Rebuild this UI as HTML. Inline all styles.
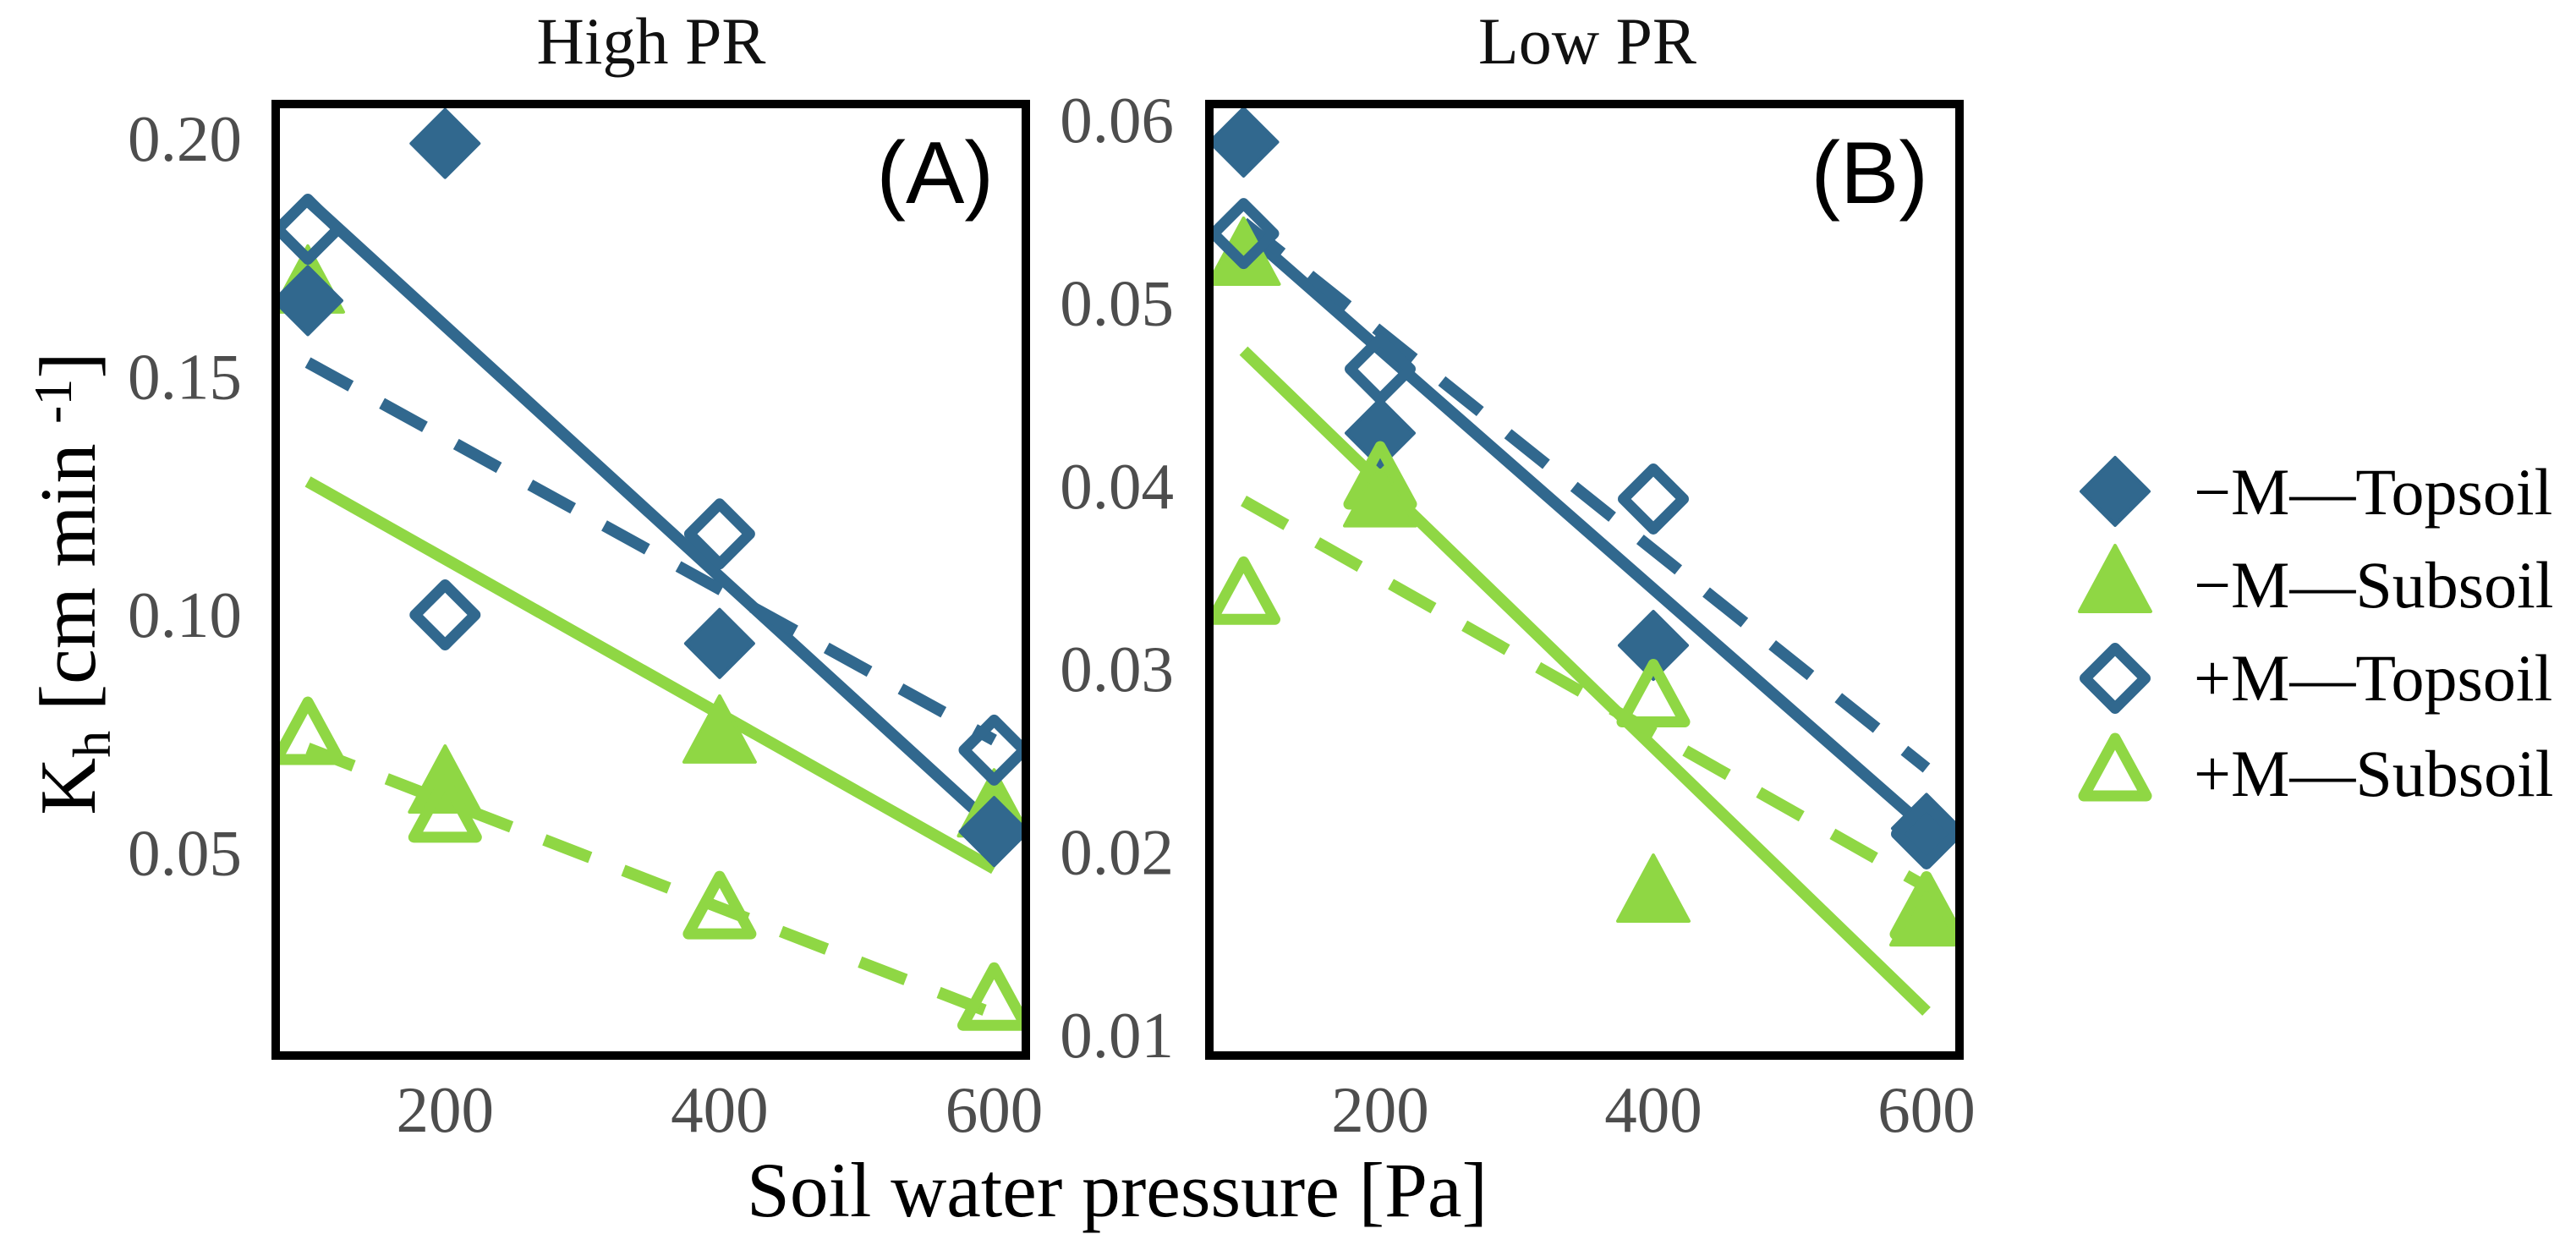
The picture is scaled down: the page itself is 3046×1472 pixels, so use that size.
<!DOCTYPE html>
<html><head><meta charset="utf-8"><title>Kh vs soil water pressure</title>
<style>
html,body{margin:0;padding:0;background:#fff;}
svg{display:block;}
text{font-family:"Liberation Serif",serif;}
</style></head>
<body>
<svg id="chart" xmlns="http://www.w3.org/2000/svg" width="3046" height="1472" viewBox="0 0 3046 1472">
<defs>
<clipPath id="clipA"><rect x="330" y="126" width="880" height="1116"/></clipPath>
<clipPath id="clipB"><rect x="1434" y="126" width="879" height="1116"/></clipPath>
</defs>
<rect x="0" y="0" width="3046" height="1472" fill="#fff"/>
<text x="770" y="75" font-size="78" text-anchor="middle" fill="#111">High PR</text>
<text x="1877" y="75" font-size="78" text-anchor="middle" fill="#111">Low PR</text>
<g id="gA"></g>
<g id="gB"></g>
<rect x="326" y="123" width="887" height="1125" fill="none" stroke="#000" stroke-width="10"/>
<rect x="1430" y="123" width="887" height="1125" fill="none" stroke="#000" stroke-width="10"/>
<text x="1175" y="240" font-size="104" text-anchor="end" fill="#000" style="font-family:'Liberation Sans',sans-serif">(A)</text>
<text x="2280" y="240" font-size="104" text-anchor="end" fill="#000" style="font-family:'Liberation Sans',sans-serif">(B)</text>
<text x="1321" y="1438" font-size="92" text-anchor="middle" textLength="876" lengthAdjust="spacingAndGlyphs" fill="#000">Soil water pressure [Pa]</text>
<text transform="translate(112,690) rotate(-90)" font-size="94" text-anchor="middle" fill="#000">K<tspan font-size="64" dy="18">h</tspan><tspan dy="-18"> [cm min </tspan><tspan font-size="64" dy="-28">-1</tspan><tspan dy="28">]</tspan></text>
<g id="legend"></g>
</svg>
<script>
const xTicks = [200, 400, 600];
const yTicksA = [0.20, 0.15, 0.10, 0.05];
const yTickLabelsA = ["0.20", "0.15", "0.10", "0.05"];
const yTicksB = [0.06, 0.05, 0.04, 0.03, 0.02, 0.01];
const yTickLabelsB = ["0.06", "0.05", "0.04", "0.03", "0.02", "0.01"];
const pressures = [100, 200, 400, 600];
const seriesNames = ["-M Topsoil", "-M Subsoil", "+M Topsoil", "+M Subsoil"];
// Panel A (High PR)
const aTopNoM = [0.166, 0.199, 0.094, 0.0545];
const aSubNoM = [0.170, 0.065, 0.0755, 0.060];
const aTopM = [0.181, 0.100, 0.117, 0.0716];
const aSubM = [0.0753, 0.059, 0.0387, 0.0195];
const aFitTopNoM = [0.187, 0.0554];
const aFitTopM = [0.153, 0.0737];
const aFitSubNoM = [0.128, 0.0467];
const aFitSubM = [0.072, 0.0162];
// Panel B (Low PR)
const bTopNoM = [0.0588, 0.0429, 0.0313, 0.0213];
const bSubNoM = [0.0527, 0.0395, 0.0179, 0.0166];
const bTopM = [0.0538, 0.0464, 0.0393, 0.021];
const bSubM = [0.0342, 0.0405, 0.0286, 0.017];
const bFitTopNoM = [0.054, 0.0213];
const bFitTopM = [0.0544, 0.0246];
const bFitSubNoM = [0.0474, 0.0113];
const bFitSubM = [0.0392, 0.0181];
const fitX = [100, 600];

const NS = "http://www.w3.org/2000/svg";
const BLUE = "#31688e", GREEN = "#8fd744", GRAY = "#4d4d4d";
function mk(tag, attrs, parent) {
  const e = document.createElementNS(NS, tag);
  for (const k in attrs) e.setAttribute(k, attrs[k]);
  parent.appendChild(e);
  return e;
}
const xA = v => 364 + (v - 100) * 1.623;
const yA = v => 164 + (0.20 - v) * 5630;
const xB = v => 1470.5 + (v - 100) * 1.615;
const yB = v => 142 + (0.06 - v) * 21640;

function diamond(cx, cy, open, parent) {
  let d;
  if (open) {
    const h = 35.5, w = 35.5;
    d = `M${cx},${cy - h} L${cx + w},${cy} L${cx},${cy + h} L${cx - w},${cy} Z`;
    return mk("path", {d, fill: "none", stroke: BLUE, "stroke-width": 13, "stroke-linejoin": "round"}, parent);
  }
  const h = 40, w = 40;
  d = `M${cx},${cy - h} L${cx + w},${cy} L${cx},${cy + h} L${cx - w},${cy} Z`;
  return mk("path", {d, fill: BLUE, stroke: BLUE, "stroke-width": 4, "stroke-linejoin": "round"}, parent);
}
function triangle(cx, cy, open, parent) {
  let d;
  if (open) {
    d = `M${cx},${cy - 36} L${cx + 37},${cy + 32} L${cx - 37},${cy + 32} Z`;
    return mk("path", {d, fill: "none", stroke: GREEN, "stroke-width": 13, "stroke-linejoin": "round"}, parent);
  }
  d = `M${cx},${cy - 42} L${cx + 42},${cy + 36} L${cx - 42},${cy + 36} Z`;
  return mk("path", {d, fill: GREEN, stroke: GREEN, "stroke-width": 4, "stroke-linejoin": "round"}, parent);
}

function panel(g, clipId, xs, ys, yTicks, yLabels, yLabelRight, wide, d, prefix) {
  xTicks.forEach(t => {
    const tx = mk("text", {x: xs(t), y: 1338, "font-size": 77, "text-anchor": "middle", fill: GRAY}, g);
    
    
    tx.textContent = t;
  });
  yTicks.forEach((t, i) => {
    const attrs = {x: yLabelRight, y: ys(t) + 26, "font-size": 77, "text-anchor": "end", fill: GRAY};
    if (wide) { attrs.textLength = 135; attrs.lengthAdjust = "spacingAndGlyphs"; }
    const ty = mk("text", attrs, g);
    
    
    ty.textContent = yLabels[i];
  });
  const pg = mk("g", {"clip-path": "url(#" + clipId + ")"}, g);
  
  
  const fits = [
    [d.fitTopNoM, BLUE, null, "fit-minus-m-topsoil"],
    [d.fitTopM, BLUE, "58 42", "fit-plus-m-topsoil"],
    [d.fitSubNoM, GREEN, null, "fit-minus-m-subsoil"],
    [d.fitSubM, GREEN, "58 42", "fit-plus-m-subsoil"]
  ];
  fits.forEach(f => {
    const attrs = {x1: xs(fitX[0]), y1: ys(f[0][0]), x2: xs(fitX[1]), y2: ys(f[0][1]), stroke: f[1], "stroke-width": 14};
    if (f[2]) attrs["stroke-dasharray"] = f[2];
    const ln = mk("line", attrs, pg);
    
    
  });
  pressures.forEach((p, i) => {
    const m1 = triangle(xs(p), ys(d.subNoM[i]), false, pg);
    
    
  });
  pressures.forEach((p, i) => {
    const m2 = diamond(xs(p), ys(d.topNoM[i]), false, pg);
    
    
  });
  pressures.forEach((p, i) => {
    const m3 = diamond(xs(p), ys(d.topM[i]), true, pg);
    
    
  });
  pressures.forEach((p, i) => {
    const m4 = triangle(xs(p), ys(d.subM[i]), true, pg);
    
    
  });
}

panel(document.getElementById("gA"), "clipA", xA, yA, yTicksA, yTickLabelsA, 286, true,
  {topNoM: aTopNoM, subNoM: aSubNoM, topM: aTopM, subM: aSubM,
   fitTopNoM: aFitTopNoM, fitTopM: aFitTopM, fitSubNoM: aFitSubNoM, fitSubM: aFitSubM}, "panel-a");
panel(document.getElementById("gB"), "clipB", xB, yB, yTicksB, yTickLabelsB, 1388, false,
  {topNoM: bTopNoM, subNoM: bSubNoM, topM: bTopM, subM: bSubM,
   fitTopNoM: bFitTopNoM, fitTopM: bFitTopM, fitSubNoM: bFitSubNoM, fitSubM: bFitSubM}, "panel-b");

const lg = document.getElementById("legend");
const legendLabels = ["\u2212M\u2014Topsoil", "\u2212M\u2014Subsoil", "+M\u2014Topsoil", "+M\u2014Subsoil"];
const legendY = [581, 687, 802, 909];
const legendBase = [608, 718, 828, 941];
legendLabels.forEach((lab, i) => {
  let mkEl;
  if (i === 0) mkEl = diamond(2501, legendY[i], false, lg);
  if (i === 1) mkEl = triangle(2501, legendY[i], false, lg);
  if (i === 2) mkEl = diamond(2501, legendY[i], true, lg);
  if (i === 3) mkEl = triangle(2501, legendY[i], true, lg);
  
  
  const t = mk("text", {x: 2594, y: legendBase[i], "font-size": 78, fill: "#000"}, lg);
  
  
  t.textContent = lab;
});
</script>
</body></html>
